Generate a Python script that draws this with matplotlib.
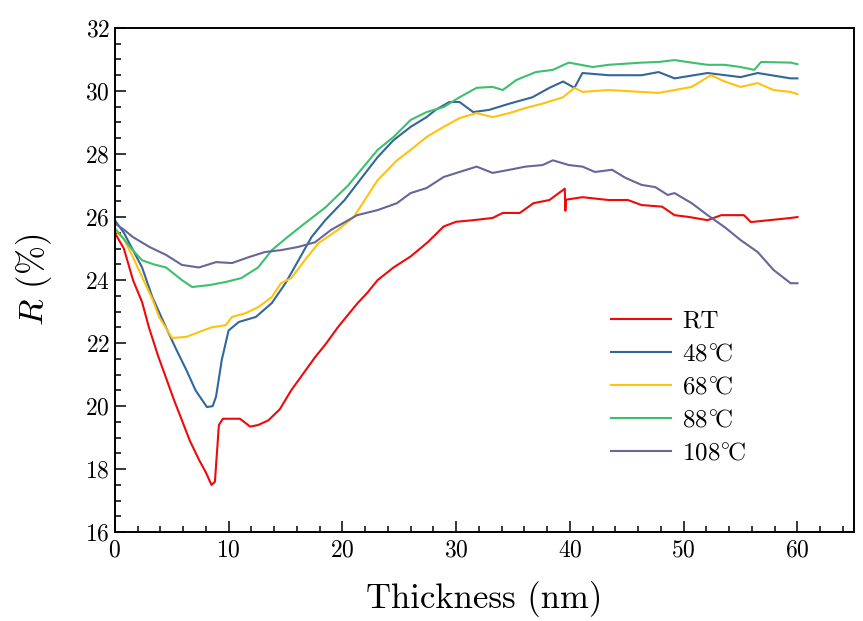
import numpy as np
import matplotlib
matplotlib.use("Agg")
import matplotlib.pyplot as plt

plt.rcParams['font.family'] = ['cmr10', 'DejaVu Serif']
plt.rcParams['mathtext.fontset'] = 'cm'
plt.rcParams['axes.formatter.use_mathtext'] = True

# RT
x_rt = [0, 0.8, 1.6, 2.4, 3.0, 3.8, 4.5, 5.2, 5.9, 6.6, 7.4, 8.0, 8.5, 8.8, 9.15, 9.5,
        10.0, 11.0, 11.9, 12.6, 13.5, 14.5, 15.5, 16.5, 17.6, 18.6, 19.6, 20.5, 21.3,
        22.2, 23.1, 24.5, 26.0, 27.5, 28.9, 30.0, 31.5, 33.2, 34.1, 35.6, 36.8, 38.2,
        39.55, 39.6, 39.65, 41.1, 43.4, 45.1, 46.3, 48.1, 49.2, 50.5, 52.1, 53.3, 55.3,
        55.9, 57.5, 59.4, 60.0]
r_rt = [25.5, 25.0, 24.0, 23.3, 22.5, 21.6, 20.9, 20.2, 19.55, 18.9, 18.3, 17.9, 17.5,
        17.6, 19.4, 19.6, 19.6, 19.6, 19.35, 19.4, 19.55, 19.9, 20.5, 21.0, 21.55, 22.0,
        22.5, 22.9, 23.25, 23.6, 24.0, 24.4, 24.75, 25.2, 25.7, 25.85, 25.9, 25.97, 26.13,
        26.13, 26.44, 26.54, 26.9, 26.2, 26.55, 26.63, 26.54, 26.54, 26.38, 26.33, 26.06,
        26.0, 25.9, 26.06, 26.06, 25.84, 25.9, 25.97, 26.0]

# 48 C
x_48 = [0, 0.8, 1.6, 2.4, 3.3, 4.5, 5.4, 6.3, 7.1, 8.1, 8.6, 8.9, 9.4, 10.0, 10.9, 12.4,
        13.8, 15.0, 16.1, 17.3, 18.5, 20.2, 21.6, 23.1, 24.5, 26.0, 27.4, 28.2, 29.4,
        30.3, 31.5, 32.9, 34.7, 36.7, 38.2, 39.4, 40.4, 41.1, 43.4, 46.3, 47.8, 49.2,
        52.1, 55.0, 56.5, 59.4, 60]
r_48 = [25.9, 25.5, 24.95, 24.4, 23.46, 22.5, 21.8, 21.14, 20.5, 19.97, 20.0, 20.3,
        21.46, 22.4, 22.67, 22.83, 23.27, 23.9, 24.6, 25.37, 25.9, 26.54, 27.2, 27.9,
        28.44, 28.86, 29.17, 29.4, 29.65, 29.65, 29.33, 29.4, 29.6, 29.8, 30.1, 30.3,
        30.1, 30.57, 30.5, 30.5, 30.6, 30.4, 30.57, 30.44, 30.57, 30.4, 30.4]

# 68 C
x_68 = [0, 0.8, 1.6, 2.4, 3.3, 3.9, 4.8, 5.05, 6.3, 7.4, 8.5, 9.75, 10.3, 11.5, 12.6,
        13.8, 14.6, 15.5, 16.7, 17.9, 19.6, 21.0, 23.1, 24.8, 26.0, 27.4, 28.9, 30.3,
        31.8, 33.2, 34.7, 36.1, 37.6, 39.4, 40.4, 41.1, 43.4, 46.3, 47.8, 49.2, 50.7,
        52.4, 53.6, 55.0, 56.5, 57.9, 59.4, 60]
r_68 = [25.6, 25.3, 24.73, 24.1, 23.4, 22.83, 22.3, 22.16, 22.2, 22.35, 22.5, 22.57,
        22.83, 22.95, 23.14, 23.46, 23.9, 24.06, 24.63, 25.17, 25.59, 26.0, 27.17, 27.8,
        28.13, 28.54, 28.86, 29.14, 29.3, 29.17, 29.3, 29.46, 29.6, 29.8, 30.1, 29.97,
        30.03, 29.97, 29.94, 30.03, 30.13, 30.5, 30.3, 30.13, 30.25, 30.03, 29.97, 29.9]

# 88 C
x_88 = [0, 0.8, 1.57, 2.4, 3.4, 4.5, 5.9, 6.8, 8.3, 9.75, 11.1, 12.6, 13.8, 15.2, 16.7,
        18.5, 20.5, 23.1, 24.5, 26.0, 27.4, 28.9, 30.3, 31.8, 33.2, 34.1, 35.3, 37.0,
        38.5, 39.9, 42.0, 43.4, 46.3, 47.8, 49.2, 50.7, 52.1, 53.6, 55.0, 56.2, 56.8,
        59.4, 60]
r_88 = [25.65, 25.3, 24.95, 24.63, 24.5, 24.4, 24.0, 23.78, 23.84, 23.94, 24.06, 24.4,
        24.95, 25.37, 25.8, 26.3, 27.0, 28.13, 28.54, 29.08, 29.33, 29.49, 29.8, 30.1,
        30.13, 30.03, 30.35, 30.6, 30.67, 30.9, 30.76, 30.83, 30.9, 30.92, 30.98, 30.9,
        30.83, 30.83, 30.76, 30.67, 30.92, 30.9, 30.85]

# 108 C
x_108 = [0, 0.8, 1.57, 3.05, 4.5, 5.9, 7.4, 8.9, 10.3, 11.8, 13.2, 14.6, 16.1, 17.6,
         19.0, 21.3, 23.1, 24.8, 26.0, 27.4, 28.9, 30.3, 31.8, 33.2, 34.7, 36.1, 37.6,
         38.5, 39.9, 41.1, 42.2, 43.7, 44.9, 46.3, 47.5, 48.6, 49.2, 50.7, 52.1, 53.6,
         55.0, 56.5, 57.9, 59.4, 60]
r_108 = [25.8, 25.6, 25.37, 25.05, 24.8, 24.48, 24.4, 24.57, 24.54, 24.73, 24.89, 24.95,
         25.05, 25.2, 25.59, 26.06, 26.22, 26.44, 26.76, 26.92, 27.27, 27.43, 27.6, 27.4,
         27.5, 27.6, 27.65, 27.8, 27.65, 27.6, 27.43, 27.5, 27.24, 27.02, 26.95, 26.7,
         26.76, 26.44, 26.06, 25.68, 25.27, 24.89, 24.32, 23.9, 23.9]

labels = ['RT', r'48$^{\circ}\!$C', r'68$^{\circ}\!$C', r'88$^{\circ}\!$C', r'108$^{\circ}\!$C']
colors = ['#ee0a0a', '#336699', '#ffc20e', '#3dbf6e', '#666699']

fig = plt.figure(figsize=(8.63, 6.21), dpi=100)
ax = fig.add_axes([0.133, 0.143, 0.857, 0.812])

series = [(x_rt, r_rt), (x_48, r_48), (x_68, r_68), (x_88, r_88), (x_108, r_108)]
for (xs, ys), lab, c in zip(series, labels, colors):
    ax.plot(xs, ys, color=c, lw=1.5, label=lab)

ax.set_xlim(0, 65)
ax.set_ylim(16, 32)
ax.set_xticks(np.arange(0, 61, 10))
ax.set_xticks(np.arange(0, 65, 2), minor=True)
ax.set_yticks(np.arange(16, 33, 2))
ax.set_yticks(np.arange(16, 32.1, 0.5), minor=True)
ax.tick_params(which='both', direction='in', labelsize=17, width=1.1)
ax.tick_params(which='major', length=8)
ax.tick_params(which='minor', length=4.5)
ax.tick_params(axis='x', pad=5)
for s in ax.spines.values():
    s.set_linewidth(1.4)

ax.set_xlabel('Thickness (nm)', fontsize=25, labelpad=14)
ax.set_ylabel('$R$ (%)', fontsize=25, labelpad=22)

ax.legend(loc='upper left', bbox_to_anchor=(0.654, 0.465), frameon=False, fontsize=18,
          handlelength=2.4, labelspacing=0.42, borderpad=0, handletextpad=0.45)

fig.savefig('out.png', dpi=100)
